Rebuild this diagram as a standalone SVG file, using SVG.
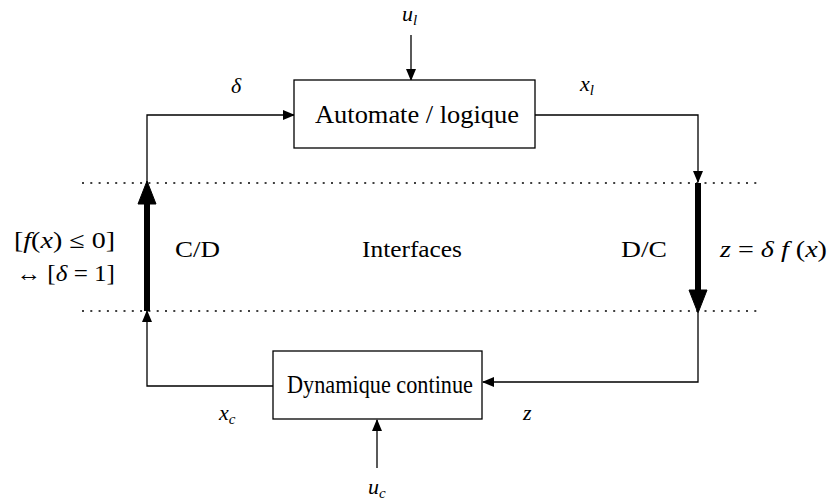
<svg xmlns="http://www.w3.org/2000/svg" width="830" height="501" viewBox="0 0 830 501">
<style>
text{font-family:"Liberation Serif","DejaVu Serif",serif;font-size:23px;fill:#000}
text.b{font-size:25px}
text.v{font-size:22px;font-style:italic}
.m{font-style:italic}
.sub{font-size:15px}
.box{fill:#fff;stroke:#000;stroke-width:1.3}
.ln{fill:none;stroke:#000;stroke-width:1.3}
.thick{fill:none;stroke:#000;stroke-width:6}
.dot{fill:none;stroke:#000;stroke-width:1.5;stroke-dasharray:2,6.3}
</style>
<defs>
<marker id="a" markerWidth="12" markerHeight="10" refX="11" refY="5" orient="auto" markerUnits="userSpaceOnUse"><path d="M0,0 L12,5 L0,10 Z" fill="#000"/></marker>
</defs>
<g id="interfaces">
<line class="dot" x1="82" y1="183" x2="762" y2="183"/>
<line class="dot" x1="82" y1="311" x2="762" y2="311"/>
<text x="362" y="257" textLength="100" lengthAdjust="spacingAndGlyphs">Interfaces</text>
</g>
<g id="connectors">
<line class="ln" x1="411" y1="35" x2="411" y2="80" marker-end="url(#a)"/>
<polyline class="ln" points="147,183 147,115 294,115" marker-end="url(#a)"/>
<polyline class="ln" points="535,115 698,115 698,182" marker-end="url(#a)"/>
<polyline class="ln" points="698,313 698,382 483,382" marker-end="url(#a)"/>
<polyline class="ln" points="273,386 147,386 147,311" marker-end="url(#a)"/>
<line class="ln" x1="377" y1="468" x2="377" y2="420" marker-end="url(#a)"/>
<line class="thick" x1="147" y1="311" x2="147" y2="200"/>
<path d="M147,181 L138,204 L156,204 Z" fill="#000" stroke="#000" stroke-width="1" stroke-linejoin="round"/>
<line class="thick" x1="698" y1="183" x2="698" y2="294"/>
<path d="M698,313 L689,290 L707,290 Z" fill="#000" stroke="#000" stroke-width="1" stroke-linejoin="round"/>
</g>
<g id="automate">
<rect class="box" x="294" y="80" width="241" height="68"/>
<text class="b" x="315" y="123" textLength="204" lengthAdjust="spacingAndGlyphs">Automate / logique</text>
</g>
<g id="dynamique">
<rect class="box" x="273" y="351" width="209" height="68"/>
<text class="b" x="287" y="393" textLength="186" lengthAdjust="spacingAndGlyphs">Dynamique continue</text>
</g>
<g id="labels">
<text class="v" x="402" y="21">u<tspan class="sub" dy="4">l</tspan></text>
<text class="v" x="231" y="93">δ</text>
<text class="v" x="580" y="91">x<tspan class="sub" dy="4">l</tspan></text>
<text class="v" x="219" y="420">x<tspan class="sub" dy="4">c</tspan></text>
<text class="v" x="523" y="420">z</text>
<text class="v" x="368" y="494">u<tspan class="sub" dy="4">c</tspan></text>
<text x="14" y="248" textLength="101" lengthAdjust="spacingAndGlyphs">[<tspan class="m">f</tspan>(<tspan class="m">x</tspan>) ≤ 0]</text>
<text x="16" y="281" textLength="99" lengthAdjust="spacingAndGlyphs">↔ [<tspan class="m">δ</tspan> = 1]</text>
<text x="175" y="257" textLength="45" lengthAdjust="spacingAndGlyphs">C/D</text>
<text x="621" y="257" textLength="46" lengthAdjust="spacingAndGlyphs">D/C</text>
<text x="720" y="257" textLength="107" lengthAdjust="spacingAndGlyphs"><tspan class="m">z</tspan> = <tspan class="m">δ f</tspan> (<tspan class="m">x</tspan>)</text>
</g>
</svg>
